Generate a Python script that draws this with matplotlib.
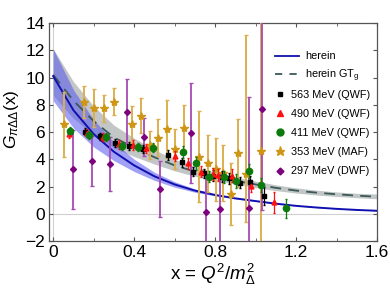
import numpy as np
import matplotlib
matplotlib.use("Agg")
import matplotlib.pyplot as plt
from matplotlib.lines import Line2D

plt.rcParams["font.family"] = ["Liberation Sans", "DejaVu Sans"]
plt.rcParams["mathtext.fontset"] = "custom"
plt.rcParams["mathtext.rm"] = "Liberation Sans"
plt.rcParams["mathtext.it"] = "Liberation Sans:italic"

# curves
x_curve = [0.0, 0.1, 0.2, 0.3, 0.4, 0.5, 0.6, 0.7, 0.8, 0.9, 1.0, 1.1, 1.2, 1.3, 1.4, 1.5, 1.6]
herein = [10.1, 7.6, 5.85, 4.55, 3.55, 2.75, 2.15, 1.7, 1.38, 1.13, 0.93, 0.74, 0.58, 0.46, 0.36, 0.28, 0.22]
herein_hi = [12.1, 9.1, 6.9, 5.25, 4.0, 3.05, 2.35, 1.82, 1.45, 1.17, 0.96, 0.76, 0.59, 0.47, 0.37, 0.29, 0.23]
herein_lo = [8.3, 6.3, 4.9, 3.9, 3.1, 2.45, 1.95, 1.58, 1.31, 1.09, 0.9, 0.72, 0.57, 0.45, 0.35, 0.27, 0.21]
gtg = [10.2, 8.3, 6.8, 5.6, 4.85, 4.15, 3.55, 3.1, 2.75, 2.42, 2.15, 1.9, 1.7, 1.55, 1.43, 1.33, 1.25]
gtg_hi = [12.1, 9.7, 7.9, 6.5, 5.55, 4.7, 4.0, 3.45, 3.05, 2.7, 2.4, 2.12, 1.9, 1.73, 1.6, 1.5, 1.45]
gtg_lo = [8.7, 7.0, 5.8, 4.85, 4.2, 3.65, 3.15, 2.75, 2.45, 2.17, 1.92, 1.7, 1.52, 1.38, 1.27, 1.18, 1.1]

# lattice points
x563 = [0.084, 0.158, 0.232, 0.306, 0.372, 0.446, 0.569, 0.635, 0.693, 0.747, 0.79, 0.833, 0.866, 0.923, 0.97, 1.039]
y563 = [6.0, 6.02, 5.7, 5.22, 5.0, 4.75, 4.31, 3.77, 3.1, 2.97, 2.8, 2.72, 2.6, 2.28, 2.35, 1.3]
e563 = [0.25, 0.25, 0.25, 0.3, 0.3, 0.3, 0.35, 0.35, 0.35, 0.35, 0.4, 0.4, 0.4, 0.4, 0.4, 0.65]

x490 = [0.08, 0.165, 0.245, 0.323, 0.393, 0.46, 0.602, 0.668, 0.731, 0.79, 0.816, 0.882, 0.978, 1.091]
y490 = [5.85, 5.9, 5.65, 5.09, 5.05, 4.8, 4.24, 3.7, 3.09, 2.9, 2.84, 2.8, 2.04, 0.83]
e490 = [0.3, 0.3, 0.3, 0.35, 0.35, 0.35, 0.4, 0.4, 0.4, 0.45, 0.45, 0.45, 0.45, 0.8]

x411 = [0.084, 0.178, 0.262, 0.339, 0.418, 0.495, 0.639, 0.706, 0.77, 0.846, 0.902, 0.969, 1.027, 1.149]
y411 = [6.1, 5.78, 5.66, 5.0, 4.92, 4.85, 4.52, 3.7, 2.72, 2.72, 2.4, 3.14, 2.11, 0.42]
e411 = [0.3, 0.3, 0.3, 0.3, 0.3, 0.35, 0.45, 0.5, 0.4, 0.45, 0.5, 0.5, 0.5, 0.7]

x353 = [0.051, 0.153, 0.204, 0.252, 0.298, 0.389, 0.433, 0.476, 0.52, 0.561,
        0.604, 0.644, 0.721, 0.764, 0.803, 0.84, 0.876, 0.912, 0.951, 1.024]
y353 = [6.56, 8.2, 7.74, 7.74, 8.22, 6.56, 7.2, 5.05, 5.58, 6.22,
        4.75, 6.3, 4.19, 3.7, 3.26, 2.97, 1.45, 4.43, 2.9, 4.63]
e353_lo = [2.4, 1.2, 1.4, 1.0, 1.0, 1.35, 1.3, 1.0, 1.35, 2.1,
           1.5, 1.65, 3.35, 2.08, 2.3, 2.05, 2.3, 2.5, 3.5, 10.0]
e353_hi = [2.4, 1.2, 1.4, 1.0, 1.0, 1.35, 1.3, 1.0, 1.35, 2.1,
           1.5, 1.65, 3.35, 2.08, 2.3, 2.05, 2.3, 2.5, 10.2, 10.0]

x297 = [0.097, 0.191, 0.281, 0.367, 0.449, 0.528, 0.68, 0.754, 0.825, 0.965, 1.03]
y297 = [3.26, 3.87, 3.65, 7.49, 5.66, 1.79, 5.9, 0.15, 0.33, 0.4, 7.66]
e297 = [2.9, 1.85, 2.0, 2.4, 1.4, 2.05, 3.67, 2.8, 2.6, 8.2, 7.4]

fig = plt.figure(figsize=(3.9, 2.95), dpi=100)
ax = fig.add_axes([0.126, 0.183, 0.841, 0.739])

ax.axhline(0, color="#d0d0d0", lw=0.8, zorder=0)
ax.axvline(0, color="#d0d0d0", lw=0.8, zorder=0)

ax.fill_between(x_curve, gtg_lo, gtg_hi, color="#c2c6c6", lw=0, zorder=1)
ax.fill_between(x_curve, herein_lo, herein_hi, color="#5555ee", alpha=0.55, lw=0, zorder=2)
ax.plot(x_curve, gtg, color="#3c5858", lw=1.3, dashes=(6, 4), zorder=3)
ax.plot(x_curve, herein, color="#1010b0", lw=1.4, zorder=3)

ax.errorbar(x353, y353, yerr=[e353_lo, e353_hi], fmt="*", ms=6, color="#cf9514",
            ecolor="#dcb050", elinewidth=1.4, capsize=1.3, zorder=4)
ax.errorbar(x297, y297, yerr=e297, fmt="D", ms=3, color="#7d007d",
            ecolor="#a54bb3", elinewidth=1.3, capsize=1.3, zorder=4)
ax.errorbar(x563, y563, yerr=e563, fmt="s", ms=3, color="black",
            ecolor="black", elinewidth=0.9, capsize=1.0, zorder=5)
ax.errorbar(x490, y490, yerr=e490, fmt="^", ms=3.5, color="#ff1010",
            ecolor="#ff1010", elinewidth=0.9, capsize=1.0, zorder=5)
ax.errorbar(x411, y411, yerr=e411, fmt="o", ms=4.5, color="#0c7a0c",
            ecolor="#0c7a0c", elinewidth=0.9, capsize=1.0, zorder=5)

ax.set_xlim(-0.02, 1.6)
ax.set_ylim(-2, 14)
ax.set_xticks([0, 0.4, 0.8, 1.2, 1.6])
ax.set_xticklabels(["0", "0.4", "0.8", "1.2", "1.6"])
ax.set_xticks([0.2, 0.6, 1.0, 1.4], minor=True)
ax.set_yticks(range(-2, 15, 2))
ax.set_yticklabels(["\u22122"] + [str(v) for v in range(0, 15, 2)])
ax.tick_params(which="both", direction="in", top=True, right=True, labelsize=12.5,
               length=3, color="#555555", pad=3)
ax.tick_params(which="minor", length=2)
for s in ax.spines.values():
    s.set_color("#555555")
    s.set_linewidth(0.9)

ax.set_xlabel(r"x = $Q^2/m_\Delta^2$", fontsize=13.5, labelpad=1)
ax.set_ylabel(r"$G_{\pi\Delta\Delta}$(x)", fontsize=12.5)
ax.yaxis.set_label_coords(-0.085, 0.56)

line_handles = [Line2D([], [], color="#1010b0", lw=1.3),
                Line2D([], [], color="#3c5858", lw=1.3, dashes=(4, 4))]
leg1 = ax.legend(line_handles, ["herein", r"herein GT$_\mathrm{g}$"], loc="upper left",
                 bbox_to_anchor=(0.689, 0.87), frameon=False, fontsize=7.8,
                 handlelength=2.2, handletextpad=0.6, labelspacing=0.55,
                 borderpad=0, borderaxespad=0)
ax.add_artist(leg1)
mk_handles = [Line2D([], [], ls="", marker="s", ms=3, color="black"),
              Line2D([], [], ls="", marker="^", ms=4, color="#ff1010"),
              Line2D([], [], ls="", marker="o", ms=5, color="#0c7a0c"),
              Line2D([], [], ls="", marker="*", ms=6.5, color="#cf9514"),
              Line2D([], [], ls="", marker="D", ms=3.5, color="#7d007d")]
ax.legend(mk_handles, ["563 MeV (QWF)", "490 MeV (QWF)", "411 MeV (QWF)",
                       "353 MeV (MAF)", "297 MeV (DWF)"],
          loc="upper left", bbox_to_anchor=(0.69, 0.695), frameon=False, fontsize=7.8,
          handlelength=0.75, handletextpad=0.7, labelspacing=0.85,
          borderpad=0, borderaxespad=0)

fig.savefig("out.png", dpi=100)
